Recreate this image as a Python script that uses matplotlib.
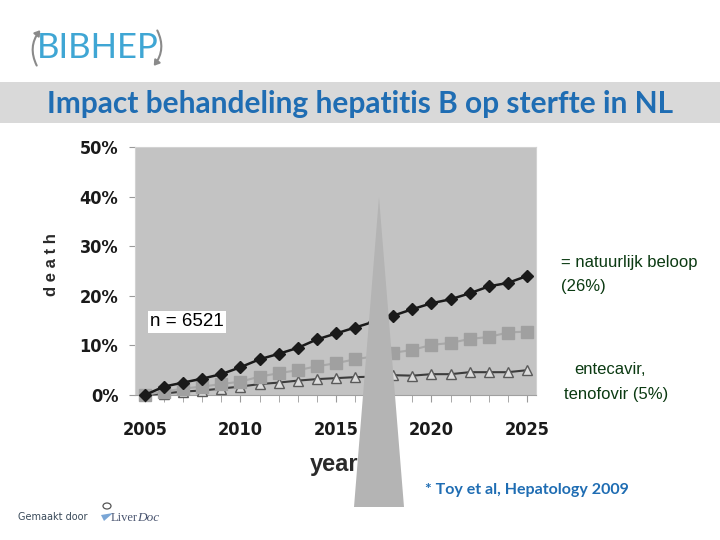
import matplotlib.pyplot as plt
import matplotlib
from matplotlib.patches import Polygon, Rectangle, FancyArrowPatch, Circle

# data (cumulative death, %)
years = [2005, 2006, 2007, 2008, 2009, 2010, 2011, 2012, 2013, 2014, 2015,
         2016, 2017, 2018, 2019, 2020, 2021, 2022, 2023, 2024, 2025]
natural = [0.0, 1.7, 2.5, 3.3, 4.2, 5.6, 7.2, 8.3, 9.5, 11.2, 12.4,
           13.6, 14.8, 16.0, 17.3, 18.5, 19.3, 20.5, 21.9, 22.6, 24.0]
middle = [0.0, 0.7, 1.3, 1.7, 2.2, 2.7, 3.7, 4.4, 5.0, 5.8, 6.4,
          7.2, 7.8, 8.5, 9.1, 10.1, 10.5, 11.3, 11.7, 12.6, 12.8]
treated = [0.0, 0.3, 0.7, 0.9, 1.3, 1.7, 2.2, 2.5, 2.9, 3.2, 3.4,
           3.6, 3.7, 4.0, 3.9, 4.2, 4.2, 4.6, 4.6, 4.6, 5.0]
ytick_vals = [0, 10, 20, 30, 40, 50]
xtick_vals = [2005, 2010, 2015, 2020, 2025]

W, H = 720, 540


def fx(x):
    return x / W


def fy(y):
    return 1 - y / H


fig = plt.figure(figsize=(7.2, 5.4), dpi=100)
fig.patch.set_facecolor('white')

# title band
fig.add_artist(Rectangle((0, fy(123)), 1, (123 - 82) / H, transform=fig.transFigure,
                         facecolor='#d9d9d9', edgecolor='none', zorder=0))
fig.text(fx(360), fy(104), 'Impact behandeling hepatitis B op sterfte in NL',
         ha='center', va='center', fontsize=21.5, fontweight='bold',
         family='Lato', color='#1f6db3')

# BIBHEP logo
fig.text(fx(37), fy(48), 'BIBHEP', ha='left', va='center', fontsize=25,
         family='Lato', color='#3fa6d4')
fig.add_artist(FancyArrowPatch((fx(38), fy(68)), (fx(42), fy(28)), transform=fig.transFigure,
                               connectionstyle='arc3,rad=-0.35', arrowstyle='-|>,head_length=3,head_width=2',
                               color='#8a8a8a', lw=1.5))
fig.add_artist(FancyArrowPatch((fx(156), fy(28)), (fx(152), fy(68)), transform=fig.transFigure,
                               connectionstyle='arc3,rad=-0.35', arrowstyle='-|>,head_length=3,head_width=2',
                               color='#8a8a8a', lw=1.5))

# chart
ax = fig.add_axes([fx(135), fy(395), (536 - 135) / W, (395 - 147) / H])
ax.set_facecolor('#c3c3c3')
for s in ax.spines.values():
    s.set_color('#d2d2d2')
ax.spines['bottom'].set_color('#a0a0a0')

ax.plot(years, treated, color='#3c3c3c', lw=1.5, marker='^', ms=7,
        mfc='#dcdcdc', mec='#5a5a5a', mew=1, clip_on=False, zorder=3)
ax.plot(years, middle, color='#a8a8a8', lw=1.5, marker='s', ms=8,
        mfc='#a0a0a0', mec='#a0a0a0', clip_on=False, zorder=4)
ax.plot(years, natural, color='#1a1a1a', lw=1.8, marker='D', ms=6.5,
        mfc='#1a1a1a', mec='#1a1a1a', clip_on=False, zorder=5)

ax.set_xlim(2004.48, 2025.47)
ax.set_ylim(0, 50)
ax.set_yticks(ytick_vals)
ax.set_yticklabels([f'{v}%' for v in ytick_vals])
ax.set_xticks(xtick_vals)
ax.set_xticks(years, minor=True)
ax.tick_params(axis='x', which='both', length=5, color='#9a9a9a', pad=14)
ax.tick_params(axis='y', length=4, color='#9a9a9a', pad=8)
for lab in ax.get_xticklabels() + ax.get_yticklabels():
    lab.set_family('DejaVu Sans')
    lab.set_fontstretch('condensed')
    lab.set_fontweight('bold')
    lab.set_fontsize(13)
    lab.set_color('#1a1a1a')

fig.text(fx(52), fy(265), 'd e a t h', rotation=90, ha='center', va='center',
         fontsize=12, fontweight='bold', color='#2a2a2a', family='Liberation Sans')
fig.text(fx(310), fy(465), 'year', ha='left', va='center', fontsize=17,
         fontweight='bold', color='#2a2a2a', family='Liberation Sans')

fig.text(fx(150), fy(322), 'n = 6521', ha='left', va='center', fontsize=13.5,
         family='Liberation Sans', color='black',
         bbox=dict(facecolor='white', edgecolor='none', pad=1.5))

# big grey wedge over the chart
fig.add_artist(Polygon([(fx(379), fy(197)), (fx(354), fy(507)), (fx(404), fy(507))],
                       closed=True, transform=fig.transFigure,
                       facecolor='#b4b4b4', edgecolor='none', zorder=10))

# right-hand labels
green = '#0b3a12'
fig.text(fx(561), fy(262), '= natuurlijk beloop', ha='left', va='center',
         fontsize=12, color=green, family='Liberation Sans')
fig.text(fx(561), fy(287), '(26%)', ha='left', va='center',
         fontsize=12, color=green, family='Liberation Sans')
fig.text(fx(610), fy(369), 'entecavir,', ha='center', va='center',
         fontsize=12, color=green, family='Liberation Sans')
fig.text(fx(616), fy(395), 'tenofovir (5%)', ha='center', va='center',
         fontsize=12, color=green, family='Liberation Sans')

fig.text(fx(425), fy(490), '* Toy et al, Hepatology 2009', ha='left', va='center',
         fontsize=11.5, fontweight='bold', family='Lato', color='#1f6db3')

# footer
fig.text(fx(18), fy(517), 'Gemaakt door', ha='left', va='center', fontsize=7,
         color='#3a4a5a', family='DejaVu Sans')
fig.add_artist(Circle((fx(107), fy(506)), 4 / W, transform=fig.transFigure,
                      facecolor='white', edgecolor='#555555', lw=0.9))
fig.add_artist(Polygon([(fx(101), fy(515)), (fx(113), fy(513)), (fx(104), fy(521))],
                       closed=True, transform=fig.transFigure,
                       facecolor='#7aa6d6', edgecolor='none'))
fig.text(fx(111), fy(518), 'Liver', ha='left', va='center', fontsize=9,
         family='Liberation Serif', color='#4a5570')
fig.text(fx(137), fy(518), 'Doc', ha='left', va='center', fontsize=9.5,
         family='Liberation Serif', style='italic', color='#4a5570')

fig.savefig('out.png', dpi=100)
